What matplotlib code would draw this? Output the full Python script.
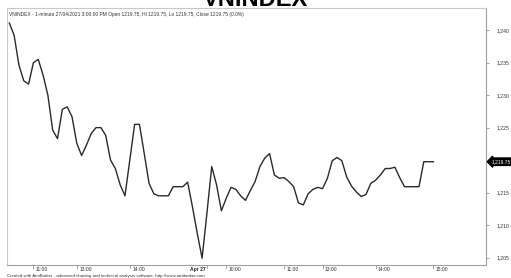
import matplotlib
matplotlib.use('Agg')
import matplotlib.pyplot as plt
import matplotlib.transforms as mtransforms

plt.rcParams['font.family'] = ['Liberation Sans', 'DejaVu Sans']

# bar index of each traced vertex and its close
bars = [0, 1, 2, 3, 4, 5, 6, 7, 8, 9, 10, 11, 12, 13, 14, 15, 16, 17, 18, 19,
        20, 21, 22, 23, 24, 25, 26, 27, 28, 29, 30, 31, 33, 34, 36, 37, 38, 39,
        40, 41, 42, 43, 44, 45, 46, 47, 48, 49, 50, 51, 52, 53, 54, 55, 56, 57,
        58, 59, 60, 61, 62, 63, 64, 65, 66, 67, 68, 69, 70, 71, 72, 73, 74, 75,
        76, 77, 78, 79, 80, 81, 82, 85, 86, 88]
close = [1241.1, 1239.2, 1234.6, 1232.2, 1231.7, 1235.0, 1235.5, 1233.1, 1230.0,
         1224.6, 1223.3, 1227.8, 1228.2, 1226.7, 1222.6, 1220.7, 1222.3, 1224.1,
         1225.0, 1225.0, 1223.8, 1220.0, 1218.7, 1216.2, 1214.5, 1220.0, 1225.5,
         1225.5, 1221.0, 1216.4, 1214.8, 1214.5, 1214.5, 1215.9, 1215.9, 1216.6,
         1212.8, 1208.7, 1204.9, 1211.8, 1219.0, 1216.2, 1212.2, 1214.1, 1215.8,
         1215.5, 1214.5, 1213.8, 1215.3, 1216.7, 1219.0, 1220.3, 1221.0, 1217.7,
         1217.2, 1217.3, 1216.7, 1215.9, 1213.4, 1213.1, 1214.8, 1215.5, 1215.8,
         1215.6, 1217.2, 1219.9, 1220.4, 1219.9, 1217.4, 1216.0, 1215.1, 1214.4,
         1214.7, 1216.4, 1216.9, 1217.7, 1218.7, 1218.7, 1218.9, 1217.3, 1215.9,
         1215.9, 1219.75, 1219.75]

tick_bars = [5, 14, 25, 41, 45, 57, 65, 76, 88]
tick_labels = ['11:00', '13:00', '14:00', 'Apr 27', '10:00', '11:00', '13:00', '14:00', '15:00']
y_ticks = [1205, 1210, 1215, 1225, 1230, 1235, 1240]
last_price = 1219.75

header = ('VNINDEX - 1-minute 27/04/2021 3:00:00 PM Open 1219.75, Hi 1219.75, '
          'Lo 1219.75, Close 1219.75 (0.0%)')
footer = ('Created with AmiBroker - advanced charting and technical analysis '
          'software. http://www.amibroker.com')

fig = plt.figure(figsize=(5.11, 2.78), dpi=100)
ax = fig.add_axes([0.0137, 0.0468, 0.9373, 0.9242])

ax.plot(bars, close, color='#2a2a2a', lw=1.0)
ax.set_xlim(-0.48, 98.9)
ax.set_ylim(1203.85, 1243.4)

for s in ['left', 'top']:
    ax.spines[s].set_color('#c8c8c8')
    ax.spines[s].set_linewidth(0.8)
for s in ['right', 'bottom']:
    ax.spines[s].set_color('#a0a0a0')
    ax.spines[s].set_linewidth(0.8)

ax.yaxis.tick_right()
ax.set_yticks(y_ticks)
ax.set_yticklabels(['{:,}'.format(v) for v in y_ticks])
ax.tick_params(axis='y', length=2, width=0.6, color='#909090', pad=6,
               labelsize=3.7, labelcolor='#333333')
ax.set_xticks([])
ax.tick_params(axis='x', length=0)

# x labels drawn by hand next to short ticks, AmiBroker style
trans = mtransforms.blended_transform_factory(ax.transData, ax.transAxes)
for b, lab in zip(tick_bars, tick_labels):
    ax.plot([b, b], [-0.012, 0.0], transform=trans, color='#909090', lw=0.6,
            clip_on=False)
    if lab.startswith('Apr'):
        ax.text(b - 0.3, -0.006, lab, transform=trans, ha='right', va='top',
                fontsize=3.6, fontweight='bold', color='#222222')
    else:
        ax.text(b + 0.5, -0.006, lab, transform=trans, ha='left', va='top',
                fontsize=3.6, color='#333333')

# last price marker on the axis
ytrans = mtransforms.blended_transform_factory(ax.transAxes, ax.transData)
ax.text(1.011, last_price, '{:,.2f}'.format(last_price), transform=ytrans,
        ha='left', va='center', fontsize=3.5, color='white', clip_on=False,
        bbox=dict(boxstyle='larrow,pad=0.25', fc='black', ec='black'))

ax.text(0.004, 0.985, header, transform=ax.transAxes, ha='left', va='top',
        fontsize=3.5, color='#333333')
fig.text(0.014, 0.0, footer, ha='left', va='bottom', fontsize=3.2,
         color='#333333')
fig.text(0.5, 1.0, 'VNINDEX', ha='center', va='center', fontsize=17,
         fontweight='bold', color='black')

fig.savefig('out.png', dpi=100)
